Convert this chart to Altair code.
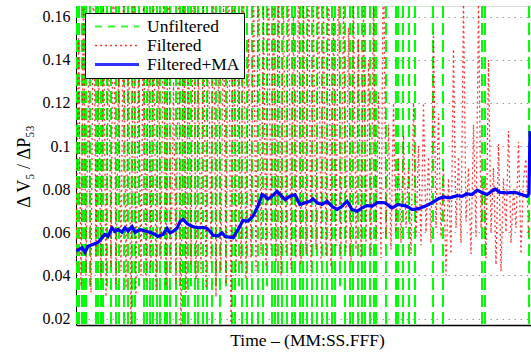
import altair as alt
import numpy as np
import pandas as pd

# ---- data -------------------------------------------------------------
# sample positions run 0..455 across the recorded window

# Unfiltered ratio: every swing overshoots the axis limits, so each one
# is a near-vertical dashed stroke between a peak and a trough
unf_x = [1, 3, 6, 8, 10, 14, 20, 22, 25, 27,
         31, 35, 40, 43, 48, 52, 56, 59, 63, 68,
         71, 74, 77, 81, 84, 89, 91, 94, 100, 104,
         107, 109, 112, 115, 119, 122, 127, 131, 136, 140,
         144, 150, 156, 159, 163, 166, 171, 176, 182, 187,
         191, 196, 199, 202, 206, 211, 216, 219, 224, 227,
         231, 236, 241, 246, 251, 256, 259, 264, 269, 274,
         277, 282, 286, 289, 294, 298, 300, 310, 320, 322,
         327, 333, 339, 357, 367, 406, 409, 453]
unf_low = [-0.25, -0.25, -0.25, -0.25, -0.25, 0.035, -0.25, -0.25, -0.25, -0.25,
           0.035, -0.25, -0.25, -0.25, -0.25, -0.25, -0.25, -0.25, 0.035, -0.25,
           -0.25, -0.25, -0.25, -0.25, -0.25, -0.25, -0.25, -0.25, -0.25, 0.035,
           -0.25, -0.25, -0.25, 0.035, -0.25, -0.25, -0.25, -0.25, -0.25, 0.035,
           -0.25, 0.035, -0.25, -0.25, 0.035, -0.25, -0.25, -0.25, -0.25, -0.25,
           0.035, -0.25, -0.25, -0.25, -0.25, -0.25, -0.25, -0.25, -0.25, -0.25,
           -0.25, -0.25, -0.25, -0.25, -0.25, -0.25, -0.25, 0.035, -0.25, -0.25,
           -0.25, -0.25, -0.25, -0.25, -0.25, -0.25, -0.25, -0.25, -0.25, -0.25,
           -0.25, -0.25, -0.25, -0.25, -0.25, -0.25, -0.25, -0.25]
unf_peak = 0.4016

# Filtered ratio, one value every 2.5 samples
filt_step = 2.5
filt_y = [0.045, 0.150, 0.035, 0.175, 0.040, 0.130, 0.032, 0.190, 0.048, 0.140,
          0.038, 0.170, 0.030, 0.155, 0.044, 0.200, 0.036, 0.135, 0.042, 0.180,
          0.034, 0.160, 0.010, 0.190, 0.031, 0.145, 0.040, 0.175, 0.037, 0.150,
          0.043, 0.185, 0.033, 0.140, 0.047, 0.170, 0.035, 0.195, 0.041, 0.130,
          0.036, 0.165, 0.008, 0.180, 0.032, 0.150, 0.045, 0.190, 0.038, 0.140,
          0.041, 0.175, 0.034, 0.160, 0.046, 0.185, 0.030, 0.145, 0.042, 0.170,
          0.036, 0.210, 0.005, 0.200, 0.040, 0.160, 0.045, 0.190, 0.038, 0.150,
          0.048, 0.180, 0.042, 0.200, 0.050, 0.165, 0.044, 0.190, 0.052, 0.175,
          0.046, 0.195, 0.040, 0.170, 0.050, 0.185, 0.043, 0.160, 0.048, 0.190,
          0.045, 0.175, 0.050, 0.200, 0.042, 0.165, 0.052, 0.185, 0.046, 0.170,
          0.049, 0.190, 0.044, 0.160, 0.053, 0.180, 0.047, 0.170, 0.051, 0.155,
          0.046, 0.175, 0.052, 0.150, 0.048, 0.165, 0.055, 0.140, 0.050, 0.175,
          0.056, 0.125, 0.048, 0.200, 0.058, 0.110, 0.052, 0.120, 0.060, 0.095,
          0.055, 0.105, 0.062, 0.090, 0.050, 0.120, 0.058, 0.100, 0.054, 0.120,
          0.060, 0.095, 0.055, 0.153, 0.062, 0.115, 0.058, 0.090, 0.040, 0.085,
          0.050, 0.145, 0.062, 0.095, 0.055, 0.168, 0.065, 0.090, 0.050, 0.110,
          0.058, 0.168, 0.062, 0.085, 0.048, 0.140, 0.060, 0.090, 0.045, 0.101,
          0.042, 0.085, 0.060, 0.107, 0.055, 0.080, 0.062, 0.102, 0.050, 0.085,
          0.094, 0.058]

# Filtered + moving average
ma_x = [0, 6, 9, 12, 17, 22, 26, 29, 32, 36,
        39, 42, 46, 49, 52, 56, 59, 64, 69, 74,
        79, 82, 87, 91, 94, 97, 101, 104, 107, 112,
        117, 122, 127, 131, 134, 137, 142, 146, 149, 154,
        157, 162, 167, 172, 177, 182, 186, 189, 192, 196,
        201, 204, 209, 214, 219, 224, 229, 234, 237, 241,
        246, 251, 256, 261, 266, 271, 276, 281, 286, 291,
        296, 301, 304, 309, 316, 322, 331, 336, 342, 349,
        356, 362, 367, 374, 381, 386, 391, 396, 401, 406,
        411, 419, 424, 431, 439, 446, 451, 453, 454]
ma_y = [0.0513, 0.0529, 0.0507, 0.0535, 0.0544, 0.0553, 0.0575, 0.0590, 0.0581, 0.0621,
        0.0604, 0.0613, 0.0600, 0.0621, 0.0606, 0.0627, 0.0600, 0.0613, 0.0606, 0.0600,
        0.0590, 0.0581, 0.0590, 0.0618, 0.0598, 0.0604, 0.0618, 0.0650, 0.0660, 0.0637,
        0.0626, 0.0621, 0.0623, 0.0618, 0.0606, 0.0586, 0.0583, 0.0598, 0.0581, 0.0577,
        0.0575, 0.0613, 0.0655, 0.0652, 0.0675, 0.0721, 0.0775, 0.0767, 0.0755, 0.0767,
        0.0790, 0.0775, 0.0752, 0.0767, 0.0775, 0.0729, 0.0737, 0.0744, 0.0755, 0.0737,
        0.0729, 0.0744, 0.0721, 0.0706, 0.0721, 0.0744, 0.0706, 0.0698, 0.0713, 0.0724,
        0.0721, 0.0737, 0.0738, 0.0737, 0.0713, 0.0729, 0.0721, 0.0706, 0.0709, 0.0721,
        0.0737, 0.0755, 0.0764, 0.0760, 0.0770, 0.0767, 0.0779, 0.0775, 0.0795, 0.0785,
        0.0775, 0.0801, 0.0785, 0.0783, 0.0785, 0.0775, 0.0767, 0.0779, 0.1070]

y_ticks = [0.02, 0.04, 0.06, 0.08, 0.10, 0.12, 0.14, 0.16]
series_names = ["Unfiltered", "Filtered", "Filtered+MA"]

# ---- tables -----------------------------------------------------------
unf_df = pd.DataFrame({"x": unf_x, "low": unf_low, "high": unf_peak})
filt_df = pd.DataFrame({"x": np.arange(len(filt_y)) * filt_step, "y": filt_y,
                        "series": "Filtered"})
ma_df = pd.DataFrame({"x": ma_x, "y": ma_y, "series": "Filtered+MA"})

# ---- styling ----------------------------------------------------------
FONT = "Liberation Serif"
x_scale = alt.Scale(domain=[0, 455], nice=False, zero=False)
y_scale = alt.Scale(domain=[0.017, 0.165], nice=False, zero=False)

color_scale = alt.Scale(domain=series_names, range=["#00ff00", "#ff0000", "#0000ff"])
dash_scale = alt.Scale(domain=series_names, range=[[7, 6], [2, 3], [1, 0]])
width_scale = alt.Scale(type="ordinal", domain=series_names, range=[2.2, 1.3, 3.2])

legend = alt.Legend(
    title=None, orient="none", legendX=9, legendY=7,
    fillColor="white", strokeColor="black", padding=4,
    symbolType="stroke", symbolSize=1936, symbolOffset=4,
    labelFont=FONT, labelFontSize=17.5, labelColor="black", labelOffset=6,
    clipHeight=19, rowPadding=0,
)

x_axis = alt.Axis(
    labels=False, ticks=False, grid=False,
    domainColor="black", domainWidth=1.5,
    title="Time – (MM:SS.FFF)", titleFont=FONT, titleFontSize=17.5,
    titleFontWeight="normal", titleColor="black",
    titleX=231, titleY=6, titleBaseline="top",
)
y_axis = alt.Axis(
    values=y_ticks, format=".2~f", ticks=False, tickSize=0,
    labelFont=FONT, labelFontSize=16, labelColor="black", labelPadding=6,
    grid=True, gridDash=[1.5, 4.5], gridColor="#9a9a9a", gridWidth=1,
    domainColor="black", domainWidth=1,
    title="Δ V₅ / ΔP₅₃", titleFont=FONT, titleFontSize=18,
    titleFontWeight="normal", titleColor="black",
    titleX=-43, titleY=160, titleAngle=270, titleBaseline="bottom",
)

# ---- layers -----------------------------------------------------------
unfiltered = alt.Chart(unf_df).mark_rule(
    color="#00ff00", strokeWidth=2, strokeDash=[12, 5], clip=True
).encode(
    x=alt.X("x:Q", scale=x_scale, axis=x_axis),
    y=alt.Y("high:Q", scale=y_scale, axis=y_axis),
    y2="low:Q",
)

def series_line(df, opacity):
    return alt.Chart(df).mark_line(clip=True, opacity=opacity).encode(
        x=alt.X("x:Q", scale=x_scale, axis=x_axis),
        y=alt.Y("y:Q", scale=y_scale, axis=y_axis),
        color=alt.Color("series:N", scale=color_scale, legend=legend),
        strokeDash=alt.StrokeDash("series:N", scale=dash_scale, legend=legend),
        strokeWidth=alt.StrokeWidth("series:N", scale=width_scale, legend=legend),
    )

chart = alt.layer(
    unfiltered, series_line(filt_df, 0.8), series_line(ma_df, 1)
).properties(
    width=455, height=319,
    autosize=alt.AutoSizeParams(type="none"),
    padding={"left": 76, "top": 6, "right": 0, "bottom": 28},
).configure_view(stroke=None).configure(background="white")

chart.save("out.html", embed_options={"renderer": "svg", "actions": False})
